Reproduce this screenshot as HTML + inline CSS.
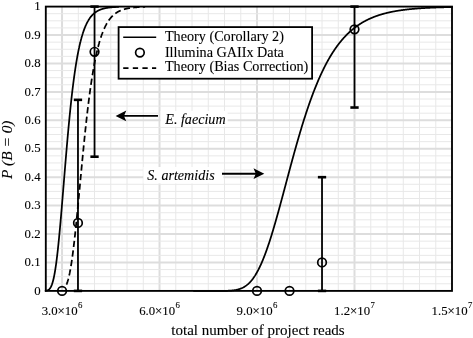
<!DOCTYPE html>
<html><head><meta charset="utf-8"><style>
html,body{margin:0;padding:0;background:#fff;overflow:hidden;width:473px;height:338px;}
svg{display:block;will-change:transform;}
text{font-family:"Liberation Serif",serif;fill:#000;stroke:#000;stroke-width:0.1px;}
.tk{font-size:12.8px;}
.gM{stroke:#dddddd;stroke-width:2;}
.gm{stroke:#e8e8e8;stroke-width:1;}
.c{fill:none;stroke:#000;stroke-width:1.75;stroke-linejoin:round;}
.eb{stroke:#000;stroke-width:1.8;}
.cap{stroke:#000;stroke-width:2.6;}
.pt{fill:none;stroke:#000;stroke-width:1.7;}
</style></head><body>
<svg width="473" height="338" viewBox="0 0 473 338">
<rect width="473" height="338" fill="#fff"/>
<g>
<line x1="62.05" y1="6.6" x2="62.05" y2="290.9" class="gM"/>
<line x1="78.30" y1="6.6" x2="78.30" y2="290.9" class="gm"/>
<line x1="94.54" y1="6.6" x2="94.54" y2="290.9" class="gm"/>
<line x1="110.79" y1="6.6" x2="110.79" y2="290.9" class="gm"/>
<line x1="127.04" y1="6.6" x2="127.04" y2="290.9" class="gm"/>
<line x1="143.29" y1="6.6" x2="143.29" y2="290.9" class="gm"/>
<line x1="159.54" y1="6.6" x2="159.54" y2="290.9" class="gM"/>
<line x1="175.78" y1="6.6" x2="175.78" y2="290.9" class="gm"/>
<line x1="192.03" y1="6.6" x2="192.03" y2="290.9" class="gm"/>
<line x1="208.28" y1="6.6" x2="208.28" y2="290.9" class="gm"/>
<line x1="224.53" y1="6.6" x2="224.53" y2="290.9" class="gm"/>
<line x1="240.78" y1="6.6" x2="240.78" y2="290.9" class="gm"/>
<line x1="257.02" y1="6.6" x2="257.02" y2="290.9" class="gM"/>
<line x1="273.27" y1="6.6" x2="273.27" y2="290.9" class="gm"/>
<line x1="289.52" y1="6.6" x2="289.52" y2="290.9" class="gm"/>
<line x1="305.77" y1="6.6" x2="305.77" y2="290.9" class="gm"/>
<line x1="322.02" y1="6.6" x2="322.02" y2="290.9" class="gm"/>
<line x1="338.26" y1="6.6" x2="338.26" y2="290.9" class="gm"/>
<line x1="354.51" y1="6.6" x2="354.51" y2="290.9" class="gM"/>
<line x1="370.76" y1="6.6" x2="370.76" y2="290.9" class="gm"/>
<line x1="387.01" y1="6.6" x2="387.01" y2="290.9" class="gm"/>
<line x1="403.26" y1="6.6" x2="403.26" y2="290.9" class="gm"/>
<line x1="419.50" y1="6.6" x2="419.50" y2="290.9" class="gm"/>
<line x1="435.75" y1="6.6" x2="435.75" y2="290.9" class="gm"/>
<line x1="45.8" y1="283.79" x2="452.0" y2="283.79" class="gm"/>
<line x1="45.8" y1="276.69" x2="452.0" y2="276.69" class="gm"/>
<line x1="45.8" y1="269.58" x2="452.0" y2="269.58" class="gm"/>
<line x1="45.8" y1="262.47" x2="452.0" y2="262.47" class="gM"/>
<line x1="45.8" y1="255.36" x2="452.0" y2="255.36" class="gm"/>
<line x1="45.8" y1="248.25" x2="452.0" y2="248.25" class="gm"/>
<line x1="45.8" y1="241.15" x2="452.0" y2="241.15" class="gm"/>
<line x1="45.8" y1="234.04" x2="452.0" y2="234.04" class="gM"/>
<line x1="45.8" y1="226.93" x2="452.0" y2="226.93" class="gm"/>
<line x1="45.8" y1="219.82" x2="452.0" y2="219.82" class="gm"/>
<line x1="45.8" y1="212.72" x2="452.0" y2="212.72" class="gm"/>
<line x1="45.8" y1="205.61" x2="452.0" y2="205.61" class="gM"/>
<line x1="45.8" y1="198.50" x2="452.0" y2="198.50" class="gm"/>
<line x1="45.8" y1="191.39" x2="452.0" y2="191.39" class="gm"/>
<line x1="45.8" y1="184.29" x2="452.0" y2="184.29" class="gm"/>
<line x1="45.8" y1="177.18" x2="452.0" y2="177.18" class="gM"/>
<line x1="45.8" y1="170.07" x2="452.0" y2="170.07" class="gm"/>
<line x1="45.8" y1="162.96" x2="452.0" y2="162.96" class="gm"/>
<line x1="45.8" y1="155.86" x2="452.0" y2="155.86" class="gm"/>
<line x1="45.8" y1="148.75" x2="452.0" y2="148.75" class="gM"/>
<line x1="45.8" y1="141.64" x2="452.0" y2="141.64" class="gm"/>
<line x1="45.8" y1="134.53" x2="452.0" y2="134.53" class="gm"/>
<line x1="45.8" y1="127.43" x2="452.0" y2="127.43" class="gm"/>
<line x1="45.8" y1="120.32" x2="452.0" y2="120.32" class="gM"/>
<line x1="45.8" y1="113.21" x2="452.0" y2="113.21" class="gm"/>
<line x1="45.8" y1="106.10" x2="452.0" y2="106.10" class="gm"/>
<line x1="45.8" y1="99.00" x2="452.0" y2="99.00" class="gm"/>
<line x1="45.8" y1="91.89" x2="452.0" y2="91.89" class="gM"/>
<line x1="45.8" y1="84.78" x2="452.0" y2="84.78" class="gm"/>
<line x1="45.8" y1="77.68" x2="452.0" y2="77.68" class="gm"/>
<line x1="45.8" y1="70.57" x2="452.0" y2="70.57" class="gm"/>
<line x1="45.8" y1="63.46" x2="452.0" y2="63.46" class="gM"/>
<line x1="45.8" y1="56.35" x2="452.0" y2="56.35" class="gm"/>
<line x1="45.8" y1="49.25" x2="452.0" y2="49.25" class="gm"/>
<line x1="45.8" y1="42.14" x2="452.0" y2="42.14" class="gm"/>
<line x1="45.8" y1="35.03" x2="452.0" y2="35.03" class="gM"/>
<line x1="45.8" y1="27.92" x2="452.0" y2="27.92" class="gm"/>
<line x1="45.8" y1="20.81" x2="452.0" y2="20.81" class="gm"/>
<line x1="45.8" y1="13.71" x2="452.0" y2="13.71" class="gm"/>
</g>
<rect x="160.6" y="111" width="67" height="15.5" fill="#fff"/>
<rect x="143.4" y="167" width="80" height="16.5" fill="#fff"/>
<polyline points="44.83,290.84 44.93,290.83 45.03,290.83 45.13,290.82 45.23,290.81 45.33,290.80 45.44,290.79 45.54,290.78 45.64,290.77 45.74,290.76 45.84,290.75 45.94,290.74 46.04,290.72 46.15,290.71 46.25,290.69 46.35,290.67 46.45,290.65 46.55,290.63 46.65,290.61 46.75,290.59 46.85,290.56 46.96,290.53 47.06,290.51 47.16,290.47 47.26,290.44 47.36,290.41 47.46,290.37 47.56,290.33 47.66,290.29 47.76,290.25 47.86,290.20 47.97,290.15 48.07,290.10 48.17,290.05 48.27,289.99 48.37,289.93 48.47,289.86 48.57,289.79 48.67,289.72 48.77,289.65 48.87,289.57 48.97,289.49 49.07,289.40 49.17,289.31 49.28,289.21 49.38,289.11 49.48,289.00 49.58,288.89 49.68,288.78 49.78,288.66 49.88,288.53 49.98,288.40 50.08,288.26 50.18,288.12 50.28,287.97 50.38,287.82 50.48,287.66 50.58,287.49 50.68,287.31 50.78,287.13 50.88,286.94 50.98,286.75 51.08,286.55 51.18,286.34 51.28,286.12 51.38,285.89 51.48,285.66 51.58,285.42 51.68,285.17 51.78,284.91 51.88,284.64 51.98,284.37 52.08,284.08 52.18,283.79 52.28,283.49 52.38,283.18 52.48,282.86 52.58,282.53 52.68,282.19 52.78,281.84 52.88,281.48 52.98,281.11 53.08,280.73 53.18,280.34 53.28,279.94 53.38,279.53 53.48,279.11 53.58,278.68 53.68,278.24 53.78,277.78 53.88,277.32 53.98,276.85 54.08,276.36 54.17,275.87 54.27,275.36 54.37,274.84 54.47,274.31 54.57,273.77 54.67,273.22 54.77,272.66 54.87,272.08 54.97,271.50 55.07,270.90 55.17,270.29 55.27,269.67 55.37,269.04 55.46,268.40 55.56,267.75 55.66,267.08 55.76,266.41 55.86,265.72 55.96,265.02 56.06,264.31 56.16,263.59 56.26,262.86 56.36,262.12 56.45,261.37 56.55,260.60 56.65,259.83 56.75,259.04 56.85,258.24 56.95,257.44 57.05,256.62 57.15,255.79 57.24,254.95 57.34,254.11 57.44,253.25 57.54,252.38 57.64,251.50 57.74,250.61 57.84,249.71 57.93,248.81 58.03,247.89 58.13,246.96 58.23,246.03 58.33,245.08 58.43,244.13 58.52,243.17 58.62,242.20 58.72,241.22 58.82,240.23 58.92,239.23 59.02,238.23 59.11,237.22 59.21,236.20 59.31,235.17 59.41,234.14 59.51,233.10 59.60,232.05 59.70,231.00 59.80,229.93 59.90,228.87 60.00,227.79 60.09,226.71 60.19,225.62 60.29,224.53 60.39,223.43 60.49,222.33 60.58,221.22 60.68,220.10 60.78,218.99 60.88,217.86 60.98,216.73 61.07,215.60 61.17,214.46 61.27,213.32 61.37,212.18 61.46,211.03 61.56,209.88 61.66,208.72 61.76,207.56 61.85,206.40 61.95,205.24 62.05,204.07 62.15,202.90 62.24,201.73 62.34,200.55 62.44,199.38 62.54,198.20 62.63,197.02 62.73,195.84 62.83,194.66 62.92,193.47 63.02,192.29 63.12,191.10 63.22,189.92 63.31,188.73 63.41,187.55 63.51,186.36 63.60,185.17 63.70,183.99 63.80,182.80 63.90,181.61 63.99,180.43 64.09,179.24 64.19,178.06 64.28,176.88 64.38,175.70 64.48,174.52 64.57,173.34 64.67,172.16 64.77,170.99 64.86,169.81 64.96,168.64 65.06,167.47 65.16,166.30 65.25,165.14 65.35,163.98 65.45,162.82 65.54,161.66 65.64,160.50 65.73,159.35 65.83,158.20 65.93,157.06 66.02,155.92 66.12,154.78 66.22,153.64 66.31,152.51 66.41,151.38 66.51,150.25 66.60,149.13 66.70,148.02 66.80,146.90 66.89,145.79 66.99,144.69 67.08,143.59 67.18,142.49 67.28,141.40 67.37,140.31 67.47,139.23 67.56,138.15 67.66,137.07 67.76,136.00 67.85,134.94 67.95,133.88 68.05,132.82 68.14,131.77 68.24,130.73 68.33,129.69 68.43,128.65 68.52,127.62 68.62,126.60 68.72,125.58 68.81,124.56 68.91,123.56 69.00,122.55 69.10,121.55 69.20,120.56 69.29,119.57 69.39,118.59 69.48,117.62 69.58,116.65 69.67,115.68 69.77,114.72 69.86,113.77 69.96,112.82 70.06,111.88 70.15,110.94 70.25,110.01 70.34,109.08 70.44,108.16 70.53,107.25 70.63,106.34 70.72,105.44 70.82,104.55 70.91,103.66 71.01,102.77 71.10,101.89 71.20,101.02 71.29,100.15 71.39,99.29 71.48,98.44 71.58,97.59 71.67,96.75 71.77,95.91 71.86,95.08 71.96,94.25 72.05,93.43 72.15,92.62 72.24,91.81 72.34,91.01 72.43,90.21 72.53,89.42 72.62,88.64 72.72,87.86 72.81,87.09 72.91,86.32 73.00,85.56 73.10,84.81 73.19,84.06 73.29,83.31 73.38,82.57 73.48,81.84 73.57,81.12 73.67,80.40 73.76,79.68 73.85,78.97 73.95,78.27 74.04,77.57 74.14,76.88 74.23,76.19 74.33,75.51 74.42,74.83 74.52,74.16 74.61,73.50 74.70,72.84 74.80,72.19 74.89,71.54 74.99,70.90 75.08,70.26 75.18,69.63 75.27,69.00 75.36,68.38 75.46,67.76 75.55,67.15 75.65,66.55 75.74,65.95 75.83,65.35 75.93,64.76 76.02,64.18 76.12,63.60 76.21,63.02 76.30,62.45 76.40,61.89 76.49,61.33 76.58,60.78 76.68,60.23 76.77,59.68 76.87,59.14 76.96,58.61 77.05,58.08 77.15,57.55 77.24,57.03 77.33,56.52 77.43,56.00 77.52,55.50 77.62,55.00 77.71,54.50 77.80,54.01 77.90,53.52 77.99,53.03 78.08,52.56 78.18,52.08 78.27,51.61 78.36,51.15 78.46,50.68 78.55,50.23 78.64,49.77 78.74,49.33 78.83,48.88 78.92,48.44 79.02,48.01 79.11,47.57 79.20,47.15 79.29,46.72 79.39,46.30 79.48,45.89 79.57,45.48 79.67,45.07 79.76,44.67 79.85,44.27 79.95,43.87 80.04,43.48 80.13,43.09 80.22,42.71 80.32,42.33 80.41,41.95 80.50,41.57 80.60,41.21 80.69,40.84 80.78,40.48 80.87,40.12 80.97,39.76 81.06,39.41 81.15,39.06 81.24,38.72 81.34,38.38 81.43,38.04 81.52,37.71 81.62,37.37 81.71,37.05 81.80,36.72 81.89,36.40 81.98,36.08 82.08,35.77 82.17,35.46 82.26,35.15 82.35,34.84 82.45,34.54 82.54,34.24 82.63,33.94 82.72,33.65 82.82,33.36 82.91,33.07 83.00,32.79 83.09,32.51 83.18,32.23 83.28,31.95 83.37,31.68 83.46,31.41 83.55,31.14 83.64,30.88 83.74,30.61 83.83,30.35 83.92,30.10 84.01,29.84 84.10,29.59 84.20,29.34 84.29,29.10 84.38,28.85 84.47,28.61 84.56,28.37 84.65,28.14 84.75,27.91 84.84,27.67 84.93,27.45 85.02,27.22 85.11,26.99 85.20,26.77 85.30,26.55 85.39,26.34 85.48,26.12 85.57,25.91 85.66,25.70 85.75,25.49 85.84,25.28 85.94,25.08 86.03,24.88 86.12,24.68 86.21,24.48 86.30,24.29 86.39,24.09 86.48,23.90 86.58,23.71 86.67,23.53 86.76,23.34 86.85,23.16 86.94,22.98 87.03,22.80 87.12,22.62 87.21,22.44 87.30,22.27 87.39,22.10 87.49,21.93 87.58,21.76 87.67,21.59 87.76,21.43 87.85,21.27 87.94,21.10 88.03,20.95 88.12,20.79 88.21,20.63 88.30,20.48 88.39,20.32 88.48,20.17 88.58,20.02 88.67,19.88 88.76,19.73 88.85,19.58 88.94,19.44 89.03,19.30 89.12,19.16 89.21,19.02 89.30,18.88 89.39,18.75 89.48,18.61 89.57,18.48 89.66,18.35 89.75,18.22 89.84,18.09 89.93,17.97 90.02,17.84 90.11,17.72 90.20,17.59 90.29,17.47 90.38,17.35 90.47,17.23 90.56,17.11 90.65,17.00 90.74,16.88 90.83,16.77 90.92,16.66 91.01,16.54 91.10,16.43 91.19,16.33 91.28,16.22 91.37,16.11 91.46,16.01 91.55,15.90 91.64,15.80 91.73,15.70 91.82,15.59 91.91,15.49 92.00,15.40 92.09,15.30 92.18,15.20 92.27,15.11 92.36,15.01 92.45,14.92 92.54,14.83 92.63,14.73 92.72,14.64 92.81,14.55 92.90,14.47 92.99,14.38 93.08,14.29 93.17,14.21 93.26,14.12 93.35,14.04 93.44,13.95 93.53,13.87 93.62,13.79 93.70,13.71 93.79,13.63 93.88,13.55 93.97,13.48 94.06,13.40 94.15,13.32 94.24,13.25 94.33,13.18 94.42,13.10 94.51,13.03 94.60,12.96 94.69,12.89 94.77,12.82 94.86,12.75 94.95,12.68 95.04,12.61 95.13,12.54 95.22,12.48 95.31,12.41 95.40,12.35 95.49,12.28 95.57,12.22 95.66,12.16 95.75,12.09 95.84,12.03 95.93,11.97 96.02,11.91 96.11,11.85 96.20,11.79 96.28,11.74 96.37,11.68 96.46,11.62 96.55,11.57 96.64,11.51 96.73,11.46 96.82,11.40 96.90,11.35 96.99,11.29 97.08,11.24 97.17,11.19 97.26,11.14 97.35,11.09 97.43,11.04 97.52,10.99 97.61,10.94 97.70,10.89 97.79,10.84 97.88,10.79 97.96,10.75 98.05,10.70 98.14,10.65 98.23,10.61 98.32,10.56 98.40,10.52 98.49,10.48 98.58,10.43 98.67,10.39 98.76,10.35 98.84,10.31 98.93,10.26 99.02,10.22 99.11,10.18 99.19,10.14 99.28,10.10 99.37,10.06 99.46,10.02 99.55,9.99 99.63,9.95 99.72,9.91 99.81,9.87 99.90,9.84 99.98,9.80 100.07,9.76 100.16,9.73 100.25,9.69 100.33,9.66 100.42,9.62 100.51,9.59 100.60,9.56 100.68,9.52 100.77,9.49 100.86,9.46 100.95,9.43 101.03,9.39 101.12,9.36 101.21,9.33 101.30,9.30 101.38,9.27 101.47,9.24 101.56,9.21 101.64,9.18 101.73,9.15 101.82,9.12 101.91,9.10 101.99,9.07 102.08,9.04 102.17,9.01 102.25,8.99 102.34,8.96 102.43,8.93 102.51,8.91 102.60,8.88 102.69,8.85 102.77,8.83 102.86,8.80 102.95,8.78 103.03,8.76 103.12,8.73 103.21,8.71 103.29,8.68 103.38,8.66 103.47,8.64 103.55,8.61 103.64,8.59 103.73,8.57 103.81,8.55 103.90,8.52 103.99,8.50 104.07,8.48 104.16,8.46 104.25,8.44 104.33,8.42 104.42,8.40 104.51,8.38 104.59,8.36 104.68,8.34 104.76,8.32 104.85,8.30 104.94,8.28 105.02,8.26 105.11,8.24 105.20,8.22 105.28,8.21 105.37,8.19 105.45,8.17 105.54,8.15 105.63,8.14 105.71,8.12 105.80,8.10 105.88,8.08 105.97,8.07 106.06,8.05 106.14,8.03 106.23,8.02 106.31,8.00 106.40,7.99 106.49,7.97 106.57,7.96 106.66,7.94 106.74,7.93 106.83,7.91 106.91,7.90 107.00,7.88 107.09,7.87 107.17,7.85 107.26,7.84 107.34,7.82 107.43,7.81 107.51,7.80 107.60,7.78 107.68,7.77 107.77,7.76 107.85,7.74 107.94,7.73 108.03,7.72 108.11,7.71 108.20,7.69 108.28,7.68 108.37,7.67 108.45,7.66 108.54,7.64 108.62,7.63 108.71,7.62 108.79,7.61 108.88,7.60 108.96,7.59 109.05,7.58 109.13,7.57 109.22,7.55 109.30,7.54 109.39,7.53 109.47,7.52 109.56,7.51 109.64,7.50 109.73,7.49 109.81,7.48 109.90,7.47 109.98,7.46 110.07,7.45 110.15,7.44 110.24,7.43 110.32,7.42 110.41,7.41 110.49,7.41 110.58,7.40 110.66,7.39 110.74,7.38 110.83,7.37 110.91,7.36 111.00,7.35 111.08,7.34 111.17,7.34 111.25,7.33 111.34,7.32 111.42,7.31 111.50,7.30 111.59,7.29 111.67,7.29 111.76,7.28 111.84,7.27 111.93,7.26 112.01,7.26 112.09,7.25 112.18,7.24 112.26,7.23 112.35,7.23 112.43,7.22 112.51,7.21 112.60,7.21 112.68,7.20 112.77,7.19 112.85,7.19 112.94,7.18 113.02,7.17 113.10,7.17 113.19,7.16 113.27,7.15 113.35,7.15 113.44,7.14 113.52,7.14 113.61,7.13 113.69,7.12 113.77,7.12 113.86,7.11 113.94,7.11 114.02,7.10 114.11,7.09 114.19,7.09 114.28,7.08 114.36,7.08 114.44,7.07 114.53,7.07 114.61,7.06 114.69,7.06 114.78,7.05 114.86,7.05 114.94,7.04 115.03,7.04 115.11,7.03 115.19,7.03 115.28,7.02 115.36,7.02 115.44,7.01 115.53,7.01 115.61,7.00 115.69,7.00 115.78,6.99 115.86,6.99 115.94,6.99 116.02,6.98 116.11,6.98 116.19,6.97 116.27,6.97 116.36,6.96 116.44,6.96 116.52,6.96 116.61,6.95 116.69,6.95 116.77,6.94 116.85,6.94 116.94,6.94 117.02,6.93 117.10,6.93 117.19,6.93 117.27,6.92 117.35,6.92 117.43,6.91 117.52,6.91 117.60,6.91 117.68,6.90 117.76,6.90 117.85,6.90 117.93,6.89 118.01,6.89 118.09,6.89 118.18,6.88 118.26,6.88 118.34,6.88 118.42,6.87 118.51,6.87 118.59,6.87 118.67,6.87 118.75,6.86 118.83,6.86" class="c"/>
<polyline points="193.24,290.90 193.57,290.90 193.91,290.90 194.25,290.90 194.58,290.90 194.92,290.90 195.25,290.90 195.59,290.90 195.92,290.90 196.26,290.90 196.60,290.90 196.93,290.90 197.27,290.90 197.60,290.90 197.94,290.90 198.27,290.90 198.61,290.90 198.94,290.90 199.28,290.90 199.61,290.90 199.95,290.90 200.28,290.90 200.62,290.90 200.95,290.90 201.29,290.90 201.62,290.90 201.95,290.90 202.29,290.90 202.62,290.90 202.96,290.90 203.29,290.90 203.63,290.90 203.96,290.90 204.29,290.90 204.63,290.90 204.96,290.90 205.29,290.90 205.63,290.90 205.96,290.90 206.30,290.90 206.63,290.90 206.96,290.90 207.30,290.90 207.63,290.90 207.96,290.90 208.29,290.90 208.63,290.90 208.96,290.90 209.29,290.90 209.63,290.90 209.96,290.90 210.29,290.90 210.62,290.90 210.96,290.90 211.29,290.90 211.62,290.90 211.95,290.90 212.29,290.90 212.62,290.90 212.95,290.90 213.28,290.90 213.61,290.90 213.95,290.90 214.28,290.90 214.61,290.90 214.94,290.90 215.27,290.90 215.60,290.90 215.93,290.90 216.27,290.90 216.60,290.90 216.93,290.90 217.26,290.89 217.59,290.89 217.92,290.89 218.25,290.89 218.58,290.89 218.91,290.89 219.24,290.89 219.57,290.89 219.91,290.89 220.24,290.88 220.57,290.88 220.90,290.88 221.23,290.88 221.56,290.88 221.89,290.87 222.22,290.87 222.55,290.87 222.88,290.86 223.21,290.86 223.54,290.85 223.87,290.85 224.20,290.84 224.52,290.84 224.85,290.83 225.18,290.83 225.51,290.82 225.84,290.81 226.17,290.80 226.50,290.79 226.83,290.78 227.16,290.77 227.49,290.76 227.82,290.75 228.14,290.74 228.47,290.72 228.80,290.71 229.13,290.69 229.46,290.67 229.79,290.65 230.12,290.63 230.44,290.61 230.77,290.59 231.10,290.56 231.43,290.53 231.76,290.51 232.08,290.47 232.41,290.44 232.74,290.41 233.07,290.37 233.39,290.33 233.72,290.29 234.05,290.25 234.38,290.20 234.70,290.15 235.03,290.10 235.36,290.05 235.69,289.99 236.01,289.93 236.34,289.86 236.67,289.79 236.99,289.72 237.32,289.65 237.65,289.57 237.97,289.49 238.30,289.40 238.63,289.31 238.95,289.21 239.28,289.11 239.60,289.00 239.93,288.89 240.26,288.78 240.58,288.66 240.91,288.53 241.23,288.40 241.56,288.26 241.89,288.12 242.21,287.97 242.54,287.82 242.86,287.66 243.19,287.49 243.51,287.31 243.84,287.13 244.16,286.94 244.49,286.75 244.81,286.55 245.14,286.34 245.46,286.12 245.79,285.89 246.11,285.66 246.44,285.42 246.76,285.17 247.09,284.91 247.41,284.64 247.74,284.37 248.06,284.08 248.38,283.79 248.71,283.49 249.03,283.18 249.36,282.86 249.68,282.53 250.00,282.19 250.33,281.84 250.65,281.48 250.98,281.11 251.30,280.73 251.62,280.34 251.95,279.94 252.27,279.53 252.59,279.11 252.92,278.68 253.24,278.24 253.56,277.78 253.89,277.32 254.21,276.85 254.53,276.36 254.85,275.87 255.18,275.36 255.50,274.84 255.82,274.31 256.15,273.77 256.47,273.22 256.79,272.66 257.11,272.08 257.43,271.50 257.76,270.90 258.08,270.29 258.40,269.67 258.72,269.04 259.05,268.40 259.37,267.75 259.69,267.08 260.01,266.41 260.33,265.72 260.65,265.02 260.97,264.31 261.30,263.59 261.62,262.86 261.94,262.12 262.26,261.37 262.58,260.60 262.90,259.83 263.22,259.04 263.54,258.24 263.86,257.44 264.19,256.62 264.51,255.79 264.83,254.95 265.15,254.11 265.47,253.25 265.79,252.38 266.11,251.50 266.43,250.61 266.75,249.71 267.07,248.81 267.39,247.89 267.71,246.96 268.03,246.03 268.35,245.08 268.67,244.13 268.99,243.17 269.31,242.20 269.63,241.22 269.95,240.23 270.27,239.23 270.59,238.23 270.90,237.22 271.22,236.20 271.54,235.17 271.86,234.14 272.18,233.10 272.50,232.05 272.82,231.00 273.14,229.93 273.46,228.87 273.77,227.79 274.09,226.71 274.41,225.62 274.73,224.53 275.05,223.43 275.37,222.33 275.68,221.22 276.00,220.10 276.32,218.99 276.64,217.86 276.96,216.73 277.27,215.60 277.59,214.46 277.91,213.32 278.23,212.18 278.54,211.03 278.86,209.88 279.18,208.72 279.50,207.56 279.81,206.40 280.13,205.24 280.45,204.07 280.76,202.90 281.08,201.73 281.40,200.55 281.72,199.38 282.03,198.20 282.35,197.02 282.67,195.84 282.98,194.66 283.30,193.47 283.61,192.29 283.93,191.10 284.25,189.92 284.56,188.73 284.88,187.55 285.20,186.36 285.51,185.17 285.83,183.99 286.14,182.80 286.46,181.61 286.77,180.43 287.09,179.24 287.41,178.06 287.72,176.88 288.04,175.70 288.35,174.52 288.67,173.34 288.98,172.16 289.30,170.99 289.61,169.81 289.93,168.64 290.24,167.47 290.56,166.30 290.87,165.14 291.19,163.98 291.50,162.82 291.81,161.66 292.13,160.50 292.44,159.35 292.76,158.20 293.07,157.06 293.39,155.92 293.70,154.78 294.01,153.64 294.33,152.51 294.64,151.38 294.96,150.25 295.27,149.13 295.58,148.02 295.90,146.90 296.21,145.79 296.52,144.69 296.84,143.59 297.15,142.49 297.46,141.40 297.78,140.31 298.09,139.23 298.40,138.15 298.72,137.07 299.03,136.00 299.34,134.94 299.65,133.88 299.97,132.82 300.28,131.77 300.59,130.73 300.90,129.69 301.22,128.65 301.53,127.62 301.84,126.60 302.15,125.58 302.46,124.56 302.78,123.56 303.09,122.55 303.40,121.55 303.71,120.56 304.02,119.57 304.34,118.59 304.65,117.62 304.96,116.65 305.27,115.68 305.58,114.72 305.89,113.77 306.20,112.82 306.51,111.88 306.83,110.94 307.14,110.01 307.45,109.08 307.76,108.16 308.07,107.25 308.38,106.34 308.69,105.44 309.00,104.55 309.31,103.66 309.62,102.77 309.93,101.89 310.24,101.02 310.55,100.15 310.86,99.29 311.17,98.44 311.48,97.59 311.79,96.75 312.10,95.91 312.41,95.08 312.72,94.25 313.03,93.43 313.34,92.62 313.65,91.81 313.96,91.01 314.27,90.21 314.58,89.42 314.89,88.64 315.20,87.86 315.51,87.09 315.81,86.32 316.12,85.56 316.43,84.81 316.74,84.06 317.05,83.31 317.36,82.57 317.67,81.84 317.98,81.12 318.28,80.40 318.59,79.68 318.90,78.97 319.21,78.27 319.52,77.57 319.82,76.88 320.13,76.19 320.44,75.51 320.75,74.83 321.06,74.16 321.36,73.50 321.67,72.84 321.98,72.19 322.29,71.54 322.59,70.90 322.90,70.26 323.21,69.63 323.52,69.00 323.82,68.38 324.13,67.76 324.44,67.15 324.74,66.55 325.05,65.95 325.36,65.35 325.66,64.76 325.97,64.18 326.28,63.60 326.58,63.02 326.89,62.45 327.20,61.89 327.50,61.33 327.81,60.78 328.11,60.23 328.42,59.68 328.73,59.14 329.03,58.61 329.34,58.08 329.64,57.55 329.95,57.03 330.25,56.52 330.56,56.00 330.87,55.50 331.17,55.00 331.48,54.50 331.78,54.01 332.09,53.52 332.39,53.03 332.70,52.56 333.00,52.08 333.31,51.61 333.61,51.15 333.92,50.68 334.22,50.23 334.53,49.77 334.83,49.33 335.13,48.88 335.44,48.44 335.74,48.01 336.05,47.57 336.35,47.15 336.66,46.72 336.96,46.30 337.26,45.89 337.57,45.48 337.87,45.07 338.17,44.67 338.48,44.27 338.78,43.87 339.09,43.48 339.39,43.09 339.69,42.71 340.00,42.33 340.30,41.95 340.60,41.57 340.90,41.21 341.21,40.84 341.51,40.48 341.81,40.12 342.12,39.76 342.42,39.41 342.72,39.06 343.02,38.72 343.33,38.38 343.63,38.04 343.93,37.71 344.23,37.37 344.54,37.05 344.84,36.72 345.14,36.40 345.44,36.08 345.74,35.77 346.05,35.46 346.35,35.15 346.65,34.84 346.95,34.54 347.25,34.24 347.55,33.94 347.86,33.65 348.16,33.36 348.46,33.07 348.76,32.79 349.06,32.51 349.36,32.23 349.66,31.95 349.96,31.68 350.26,31.41 350.56,31.14 350.87,30.88 351.17,30.61 351.47,30.35 351.77,30.10 352.07,29.84 352.37,29.59 352.67,29.34 352.97,29.10 353.27,28.85 353.57,28.61 353.87,28.37 354.17,28.14 354.47,27.91 354.77,27.67 355.07,27.45 355.37,27.22 355.67,26.99 355.97,26.77 356.27,26.55 356.56,26.34 356.86,26.12 357.16,25.91 357.46,25.70 357.76,25.49 358.06,25.28 358.36,25.08 358.66,24.88 358.96,24.68 359.26,24.48 359.55,24.29 359.85,24.09 360.15,23.90 360.45,23.71 360.75,23.53 361.05,23.34 361.34,23.16 361.64,22.98 361.94,22.80 362.24,22.62 362.54,22.44 362.83,22.27 363.13,22.10 363.43,21.93 363.73,21.76 364.02,21.59 364.32,21.43 364.62,21.27 364.92,21.10 365.21,20.95 365.51,20.79 365.81,20.63 366.11,20.48 366.40,20.32 366.70,20.17 367.00,20.02 367.29,19.88 367.59,19.73 367.89,19.58 368.18,19.44 368.48,19.30 368.78,19.16 369.07,19.02 369.37,18.88 369.66,18.75 369.96,18.61 370.26,18.48 370.55,18.35 370.85,18.22 371.14,18.09 371.44,17.97 371.74,17.84 372.03,17.72 372.33,17.59 372.62,17.47 372.92,17.35 373.21,17.23 373.51,17.11 373.80,17.00 374.10,16.88 374.39,16.77 374.69,16.66 374.98,16.54 375.28,16.43 375.57,16.33 375.87,16.22 376.16,16.11 376.46,16.01 376.75,15.90 377.04,15.80 377.34,15.70 377.63,15.59 377.93,15.49 378.22,15.40 378.52,15.30 378.81,15.20 379.10,15.11 379.40,15.01 379.69,14.92 379.98,14.83 380.28,14.73 380.57,14.64 380.87,14.55 381.16,14.47 381.45,14.38 381.74,14.29 382.04,14.21 382.33,14.12 382.62,14.04 382.92,13.95 383.21,13.87 383.50,13.79 383.80,13.71 384.09,13.63 384.38,13.55 384.67,13.48 384.97,13.40 385.26,13.32 385.55,13.25 385.84,13.18 386.13,13.10 386.43,13.03 386.72,12.96 387.01,12.89 387.30,12.82 387.59,12.75 387.89,12.68 388.18,12.61 388.47,12.54 388.76,12.48 389.05,12.41 389.34,12.35 389.63,12.28 389.93,12.22 390.22,12.16 390.51,12.09 390.80,12.03 391.09,11.97 391.38,11.91 391.67,11.85 391.96,11.79 392.25,11.74 392.54,11.68 392.83,11.62 393.12,11.57 393.41,11.51 393.71,11.46 394.00,11.40 394.29,11.35 394.58,11.29 394.87,11.24 395.16,11.19 395.45,11.14 395.73,11.09 396.02,11.04 396.31,10.99 396.60,10.94 396.89,10.89 397.18,10.84 397.47,10.79 397.76,10.75 398.05,10.70 398.34,10.65 398.63,10.61 398.92,10.56 399.21,10.52 399.50,10.48 399.78,10.43 400.07,10.39 400.36,10.35 400.65,10.31 400.94,10.26 401.23,10.22 401.52,10.18 401.80,10.14 402.09,10.10 402.38,10.06 402.67,10.02 402.96,9.99 403.24,9.95 403.53,9.91 403.82,9.87 404.11,9.84 404.39,9.80 404.68,9.76 404.97,9.73 405.26,9.69 405.54,9.66 405.83,9.62 406.12,9.59 406.41,9.56 406.69,9.52 406.98,9.49 407.27,9.46 407.55,9.43 407.84,9.39 408.13,9.36 408.41,9.33 408.70,9.30 408.99,9.27 409.27,9.24 409.56,9.21 409.85,9.18 410.13,9.15 410.42,9.12 410.70,9.10 410.99,9.07 411.28,9.04 411.56,9.01 411.85,8.99 412.13,8.96 412.42,8.93 412.70,8.91 412.99,8.88 413.28,8.85 413.56,8.83 413.85,8.80 414.13,8.78 414.42,8.76 414.70,8.73 414.99,8.71 415.27,8.68 415.56,8.66 415.84,8.64 416.12,8.61 416.41,8.59 416.69,8.57 416.98,8.55 417.26,8.52 417.55,8.50 417.83,8.48 418.12,8.46 418.40,8.44 418.68,8.42 418.97,8.40 419.25,8.38 419.54,8.36 419.82,8.34 420.10,8.32 420.39,8.30 420.67,8.28 420.95,8.26 421.24,8.24 421.52,8.22 421.80,8.21 422.09,8.19 422.37,8.17 422.65,8.15 422.94,8.14 423.22,8.12 423.50,8.10 423.78,8.08 424.07,8.07 424.35,8.05 424.63,8.03 424.91,8.02 425.20,8.00 425.48,7.99 425.76,7.97 426.04,7.96 426.33,7.94 426.61,7.93 426.89,7.91 427.17,7.90 427.45,7.88 427.73,7.87 428.02,7.85 428.30,7.84 428.58,7.82 428.86,7.81 429.14,7.80 429.42,7.78 429.70,7.77 429.99,7.76 430.27,7.74 430.55,7.73 430.83,7.72 431.11,7.71 431.39,7.69 431.67,7.68 431.95,7.67 432.23,7.66 432.51,7.64 432.79,7.63 433.07,7.62 433.35,7.61 433.63,7.60 433.91,7.59 434.19,7.58 434.47,7.57 434.75,7.55 435.03,7.54 435.31,7.53 435.59,7.52 435.87,7.51 436.15,7.50 436.43,7.49 436.71,7.48 436.99,7.47 437.27,7.46 437.55,7.45 437.83,7.44 438.11,7.43 438.39,7.42 438.67,7.41 438.94,7.41 439.22,7.40 439.50,7.39 439.78,7.38 440.06,7.37 440.34,7.36 440.62,7.35 440.89,7.34 441.17,7.34 441.45,7.33 441.73,7.32 442.01,7.31 442.28,7.30 442.56,7.29 442.84,7.29 443.12,7.28 443.40,7.27 443.67,7.26 443.95,7.26 444.23,7.25 444.51,7.24 444.78,7.23 445.06,7.23 445.34,7.22 445.62,7.21 445.89,7.21 446.17,7.20 446.45,7.19 446.72,7.19 447.00,7.18 447.28,7.17 447.55,7.17 447.83,7.16 448.11,7.15 448.38,7.15 448.66,7.14 448.94,7.14 449.21,7.13 449.49,7.12 449.76,7.12 450.04,7.11 450.32,7.11 450.59,7.10 450.87,7.09 451.14,7.09 451.42,7.08 451.69,7.08 451.97,7.07 452.24,7.07 452.52,7.06 452.80,7.06" class="c"/>
<polyline points="66.45,284.65 66.55,284.42 66.64,284.19 66.73,283.95 66.83,283.71 66.92,283.46 67.02,283.21 67.11,282.95 67.20,282.68 67.30,282.41 67.39,282.13 67.48,281.84 67.58,281.55 67.67,281.25 67.76,280.94 67.86,280.63 67.95,280.31 68.04,279.98 68.14,279.65 68.23,279.31 68.32,278.96 68.42,278.61 68.51,278.25 68.60,277.88 68.70,277.50 68.79,277.12 68.88,276.73 68.98,276.33 69.07,275.93 69.16,275.51 69.26,275.09 69.35,274.67 69.44,274.23 69.54,273.79 69.63,273.34 69.72,272.88 69.82,272.42 69.91,271.94 70.00,271.46 70.09,270.98 70.19,270.48 70.28,269.98 70.37,269.47 70.47,268.95 70.56,268.43 70.65,267.89 70.75,267.35 70.84,266.80 70.93,266.25 71.02,265.69 71.12,265.12 71.21,264.54 71.30,263.95 71.40,263.36 71.49,262.76 71.58,262.15 71.68,261.54 71.77,260.92 71.86,260.29 71.95,259.65 72.05,259.01 72.14,258.36 72.23,257.70 72.32,257.03 72.42,256.36 72.51,255.68 72.60,255.00 72.70,254.30 72.79,253.60 72.88,252.90 72.97,252.19 73.07,251.47 73.16,250.74 73.25,250.01 73.34,249.27 73.44,248.52 73.53,247.77 73.62,247.02 73.71,246.25 73.81,245.48 73.90,244.71 73.99,243.92 74.08,243.14 74.18,242.34 74.27,241.54 74.36,240.74 74.45,239.93 74.55,239.12 74.64,238.29 74.73,237.47 74.82,236.64 74.92,235.80 75.01,234.96 75.10,234.11 75.19,233.26 75.29,232.41 75.38,231.55 75.47,230.68 75.56,229.81 75.66,228.94 75.75,228.06 75.84,227.18 75.93,226.29 76.02,225.40 76.12,224.51 76.21,223.61 76.30,222.71 76.39,221.81 76.49,220.90 76.58,219.99 76.67,219.07 76.76,218.15 76.85,217.23 76.95,216.31 77.04,215.38 77.13,214.45 77.22,213.52 77.31,212.58 77.41,211.64 77.50,210.70 77.59,209.76 77.68,208.82 77.77,207.87 77.87,206.92 77.96,205.97 78.05,205.02 78.14,204.06 78.23,203.11 78.33,202.15 78.42,201.19 78.51,200.23 78.60,199.27 78.69,198.30 78.78,197.34 78.88,196.37 78.97,195.41 79.06,194.44 79.15,193.47 79.24,192.51 79.33,191.54 79.43,190.57 79.52,189.60 79.61,188.63 79.70,187.66 79.79,186.69 79.89,185.72 79.98,184.75 80.07,183.78 80.16,182.81 80.25,181.84 80.34,180.87 80.43,179.90 80.53,178.93 80.62,177.97 80.71,177.00 80.80,176.03 80.89,175.07 80.98,174.10 81.08,173.14 81.17,172.18 81.26,171.22 81.35,170.26 81.44,169.30 81.53,168.34 81.62,167.38 81.72,166.43 81.81,165.48 81.90,164.53 81.99,163.58 82.08,162.63 82.17,161.68 82.26,160.74 82.35,159.80 82.45,158.86 82.54,157.92 82.63,156.98 82.72,156.05 82.81,155.12 82.90,154.19 82.99,153.26 83.08,152.33 83.18,151.41 83.27,150.49 83.36,149.57 83.45,148.66 83.54,147.75 83.63,146.84 83.72,145.93 83.81,145.02 83.90,144.12 84.00,143.22 84.09,142.33 84.18,141.44 84.27,140.55 84.36,139.66 84.45,138.77 84.54,137.89 84.63,137.02 84.72,136.14 84.81,135.27 84.90,134.40 85.00,133.54 85.09,132.67 85.18,131.82 85.27,130.96 85.36,130.11 85.45,129.26 85.54,128.42 85.63,127.57 85.72,126.74 85.81,125.90 85.90,125.07 85.99,124.24 86.09,123.42 86.18,122.60 86.27,121.78 86.36,120.97 86.45,120.16 86.54,119.35 86.63,118.55 86.72,117.75 86.81,116.96 86.90,116.17 86.99,115.38 87.08,114.60 87.17,113.82 87.26,113.04 87.35,112.27 87.44,111.50 87.53,110.74 87.63,109.98 87.72,109.22 87.81,108.47 87.90,107.72 87.99,106.97 88.08,106.23 88.17,105.50 88.26,104.76 88.35,104.03 88.44,103.31 88.53,102.59 88.62,101.87 88.71,101.16 88.80,100.45 88.89,99.74 88.98,99.04 89.07,98.34 89.16,97.65 89.25,96.96 89.34,96.27 89.43,95.59 89.52,94.91 89.61,94.24 89.70,93.56 89.79,92.90 89.88,92.24 89.97,91.58 90.06,90.92 90.15,90.27 90.24,89.63 90.33,88.98 90.42,88.34 90.51,87.71 90.60,87.08 90.69,86.45 90.78,85.83 90.87,85.21 90.96,84.59 91.05,83.98 91.14,83.37 91.23,82.77 91.32,82.17 91.41,81.57 91.50,80.98 91.59,80.39 91.68,79.81 91.77,79.22 91.86,78.65 91.95,78.07 92.04,77.50 92.13,76.94 92.22,76.38 92.31,75.82 92.40,75.26 92.49,74.71 92.58,74.16 92.67,73.62 92.76,73.08 92.85,72.54 92.94,72.01 93.03,71.48 93.12,70.96 93.21,70.43 93.30,69.92 93.39,69.40 93.48,68.89 93.57,68.38 93.66,67.88 93.75,67.38 93.84,66.88 93.93,66.39 94.01,65.90 94.10,65.41 94.19,64.93 94.28,64.45 94.37,63.97 94.46,63.50 94.55,63.03 94.64,62.56 94.73,62.10 94.82,61.64 94.91,61.19 95.00,60.73 95.09,60.28 95.18,59.84 95.27,59.40 95.36,58.96 95.45,58.52 95.53,58.09 95.62,57.66 95.71,57.23 95.80,56.81 95.89,56.39 95.98,55.97 96.07,55.55 96.16,55.14 96.25,54.74 96.34,54.33 96.43,53.93 96.52,53.53 96.60,53.13 96.69,52.74 96.78,52.35 96.87,51.97 96.96,51.58 97.05,51.20 97.14,50.82 97.23,50.45 97.32,50.08 97.41,49.71 97.50,49.34 97.58,48.98 97.67,48.62 97.76,48.26 97.85,47.90 97.94,47.55 98.03,47.20 98.12,46.85 98.21,46.51 98.30,46.17 98.38,45.83 98.47,45.49 98.56,45.16 98.65,44.83 98.74,44.50 98.83,44.17 98.92,43.85 99.01,43.53 99.09,43.21 99.18,42.90 99.27,42.58 99.36,42.27 99.45,41.96 99.54,41.66 99.63,41.36 99.72,41.06 99.80,40.76 99.89,40.46 99.98,40.17 100.07,39.88 100.16,39.59 100.25,39.30 100.34,39.02 100.42,38.74 100.51,38.46 100.60,38.18 100.69,37.90 100.78,37.63 100.87,37.36 100.95,37.09 101.04,36.83 101.13,36.56 101.22,36.30 101.31,36.04 101.40,35.78 101.49,35.53 101.57,35.28 101.66,35.03 101.75,34.78 101.84,34.53 101.93,34.28 102.02,34.04 102.10,33.80 102.19,33.56 102.28,33.33 102.37,33.09 102.46,32.86 102.54,32.63 102.63,32.40 102.72,32.17 102.81,31.94 102.90,31.72 102.99,31.50 103.07,31.28 103.16,31.06 103.25,30.85 103.34,30.63 103.43,30.42 103.51,30.21 103.60,30.00 103.69,29.79 103.78,29.59 103.87,29.39 103.95,29.18 104.04,28.98 104.13,28.78 104.22,28.59 104.31,28.39 104.39,28.20 104.48,28.01 104.57,27.82 104.66,27.63 104.75,27.44 104.83,27.26 104.92,27.07 105.01,26.89 105.10,26.71 105.18,26.53 105.27,26.35 105.36,26.18 105.45,26.00 105.54,25.83 105.62,25.66 105.71,25.49 105.80,25.32 105.89,25.15 105.97,24.99 106.06,24.82 106.15,24.66 106.24,24.50 106.32,24.34 106.41,24.18 106.50,24.02 106.59,23.87 106.67,23.71 106.76,23.56 106.85,23.41 106.94,23.26 107.03,23.11 107.11,22.96 107.20,22.81 107.29,22.67 107.37,22.52 107.46,22.38 107.55,22.24 107.64,22.10 107.72,21.96 107.81,21.82 107.90,21.69 107.99,21.55 108.07,21.42 108.16,21.28 108.25,21.15 108.34,21.02 108.42,20.89 108.51,20.76 108.60,20.63 108.69,20.51 108.77,20.38 108.86,20.26 108.95,20.13 109.03,20.01 109.12,19.89 109.21,19.77 109.30,19.65 109.38,19.54 109.47,19.42 109.56,19.30 109.64,19.19 109.73,19.07 109.82,18.96 109.91,18.85 109.99,18.74 110.08,18.63 110.17,18.52 110.25,18.41 110.34,18.31 110.43,18.20 110.51,18.10 110.60,17.99 110.69,17.89 110.78,17.79 110.86,17.69 110.95,17.59 111.04,17.49 111.12,17.39 111.21,17.29 111.30,17.19 111.38,17.10 111.47,17.00 111.56,16.91 111.64,16.81 111.73,16.72 111.82,16.63 111.90,16.54 111.99,16.45 112.08,16.36 112.16,16.27 112.25,16.18 112.34,16.10 112.42,16.01 112.51,15.92 112.60,15.84 112.68,15.76 112.77,15.67 112.86,15.59 112.94,15.51 113.03,15.43 113.12,15.35 113.20,15.27 113.29,15.19 113.38,15.11 113.46,15.03 113.55,14.96 113.64,14.88 113.72,14.81 113.81,14.73 113.90,14.66 113.98,14.58 114.07,14.51 114.15,14.44 114.24,14.37 114.33,14.30 114.41,14.23 114.50,14.16 114.59,14.09 114.67,14.02 114.76,13.95 114.84,13.89 114.93,13.82 115.02,13.75 115.10,13.69 115.19,13.62 115.28,13.56 115.36,13.50 115.45,13.43 115.53,13.37 115.62,13.31 115.71,13.25 115.79,13.19 115.88,13.13 115.97,13.07 116.05,13.01 116.14,12.95 116.22,12.89 116.31,12.83 116.40,12.78 116.48,12.72 116.57,12.66 116.65,12.61 116.74,12.55 116.83,12.50 116.91,12.45 117.00,12.39 117.08,12.34 117.17,12.29 117.26,12.24 117.34,12.18 117.43,12.13 117.51,12.08 117.60,12.03 117.68,11.98 117.77,11.93 117.86,11.88 117.94,11.84 118.03,11.79 118.11,11.74 118.20,11.69 118.28,11.65 118.37,11.60 118.46,11.55 118.54,11.51 118.63,11.46 118.71,11.42 118.80,11.38 118.88,11.33 118.97,11.29 119.06,11.25 119.14,11.20 119.23,11.16 119.31,11.12 119.40,11.08 119.48,11.04 119.57,11.00 119.65,10.96 119.74,10.92 119.83,10.88 119.91,10.84 120.00,10.80 120.08,10.76 120.17,10.72 120.25,10.68 120.34,10.65 120.42,10.61 120.51,10.57 120.59,10.54 120.68,10.50 120.77,10.46 120.85,10.43 120.94,10.39 121.02,10.36 121.11,10.32 121.19,10.29 121.28,10.26 121.36,10.22 121.45,10.19 121.53,10.16 121.62,10.12 121.70,10.09 121.79,10.06 121.87,10.03 121.96,10.00 122.04,9.97 122.13,9.93 122.21,9.90 122.30,9.87 122.38,9.84 122.47,9.81 122.55,9.78 122.64,9.76 122.72,9.73 122.81,9.70 122.89,9.67 122.98,9.64 123.06,9.61 123.15,9.59 123.23,9.56 123.32,9.53 123.40,9.50 123.49,9.48 123.57,9.45 123.66,9.42 123.74,9.40 123.83,9.37 123.91,9.35 124.00,9.32 124.08,9.30 124.17,9.27 124.25,9.25 124.34,9.22 124.42,9.20 124.51,9.18 124.59,9.15 124.68,9.13 124.76,9.11 124.85,9.08 124.93,9.06 125.01,9.04 125.10,9.01 125.18,8.99 125.27,8.97 125.35,8.95 125.44,8.93 125.52,8.91 125.61,8.88 125.69,8.86 125.78,8.84 125.86,8.82 125.95,8.80 126.03,8.78 126.11,8.76 126.20,8.74 126.28,8.72 126.37,8.70 126.45,8.68 126.54,8.66 126.62,8.64 126.70,8.63 126.79,8.61 126.87,8.59 126.96,8.57 127.04,8.55 127.13,8.53 127.21,8.52 127.30,8.50 127.38,8.48 127.46,8.46 127.55,8.45 127.63,8.43 127.72,8.41 127.80,8.40 127.88,8.38 127.97,8.36 128.05,8.35 128.14,8.33 128.22,8.31 128.31,8.30 128.39,8.28 128.47,8.27 128.56,8.25 128.64,8.24 128.73,8.22 128.81,8.21 128.89,8.19 128.98,8.18 129.06,8.16 129.15,8.15 129.23,8.13 129.31,8.12 129.40,8.11 129.48,8.09 129.57,8.08 129.65,8.07 129.73,8.05 129.82,8.04 129.90,8.03 129.99,8.01 130.07,8.00 130.15,7.99 130.24,7.97 130.32,7.96 130.40,7.95 130.49,7.94 130.57,7.92 130.66,7.91 130.74,7.90 130.82,7.89 130.91,7.88 130.99,7.86 131.07,7.85 131.16,7.84 131.24,7.83 131.32,7.82 131.41,7.81 131.49,7.80 131.58,7.78 131.66,7.77 131.74,7.76 131.83,7.75 131.91,7.74 131.99,7.73 132.08,7.72 132.16,7.71 132.24,7.70 132.33,7.69 132.41,7.68 132.49,7.67 132.58,7.66 132.66,7.65 132.74,7.64 132.83,7.63 132.91,7.62 132.99,7.61 133.08,7.60 133.16,7.59 133.24,7.58 133.33,7.58 133.41,7.57 133.49,7.56 133.58,7.55 133.66,7.54 133.74,7.53 133.83,7.52 133.91,7.51 133.99,7.51 134.08,7.50 134.16,7.49 134.24,7.48 134.33,7.47 134.41,7.46 134.49,7.46 134.58,7.45 134.66,7.44 134.74,7.43 134.83,7.43 134.91,7.42 134.99,7.41 135.07,7.40 135.16,7.40 135.24,7.39 135.32,7.38 135.41,7.37 135.49,7.37 135.57,7.36 135.65,7.35 135.74,7.35 135.82,7.34 135.90,7.33 135.99,7.33 136.07,7.32 136.15,7.31 136.23,7.31 136.32,7.30 136.40,7.29 136.48,7.29 136.57,7.28 136.65,7.27 136.73,7.27 136.81,7.26 136.90,7.25 136.98,7.25 137.06,7.24 137.15,7.24 137.23,7.23 137.31,7.23 137.39,7.22 137.48,7.21 137.56,7.21 137.64,7.20 137.72,7.20 137.81,7.19 137.89,7.19 137.97,7.18 138.05,7.18 138.14,7.17 138.22,7.16 138.30,7.16 138.38,7.15 138.47,7.15 138.55,7.14 138.63,7.14 138.71,7.13 138.80,7.13 138.88,7.12 138.96,7.12 139.04,7.11 139.13,7.11 139.21,7.11 139.29,7.10 139.37,7.10 139.45,7.09 139.54,7.09 139.62,7.08 139.70,7.08 139.78,7.07 139.87,7.07 139.95,7.06 140.03,7.06 140.11,7.06 140.19,7.05 140.28,7.05 140.36,7.04 140.44,7.04 140.52,7.04 140.61,7.03 140.69,7.03 140.77,7.02 140.85,7.02 140.93,7.02 141.02,7.01 141.10,7.01 141.18,7.00 141.26,7.00 141.34,7.00 141.43,6.99 141.51,6.99 141.59,6.99 141.67,6.98 141.75,6.98 141.84,6.98 141.92,6.97 142.00,6.97 142.08,6.97 142.16,6.96 142.24,6.96 142.33,6.96 142.41,6.95 142.49,6.95 142.57,6.95 142.65,6.94 142.73,6.94 142.82,6.94 142.90,6.93 142.98,6.93 143.06,6.93 143.14,6.92 143.23,6.92 143.31,6.92 143.39,6.91 143.47,6.91 143.55,6.91 143.63,6.91 143.71,6.90 143.80,6.90 143.88,6.90 143.96,6.90 144.04,6.89 144.12,6.89 144.20,6.89 144.29,6.88 144.37,6.88 144.45,6.88 144.53,6.88 144.61,6.87 144.69,6.87 144.77,6.87 144.86,6.87 144.94,6.86 145.02,6.86 145.10,6.86" class="c" stroke-dasharray="6.2 3.4"/>
<circle cx="62.05" cy="290.90" r="4.3" class="pt"/><line x1="77.97" y1="99.85" x2="77.97" y2="290.90" class="eb"/><circle cx="77.97" cy="222.95" r="4.3" class="pt"/><line x1="94.54" y1="6.60" x2="94.54" y2="156.71" class="eb"/><circle cx="94.54" cy="51.80" r="4.3" class="pt"/><circle cx="257.02" cy="290.90" r="4.3" class="pt"/><circle cx="289.52" cy="290.90" r="4.3" class="pt"/><line x1="322.02" y1="177.18" x2="322.02" y2="290.90" class="eb"/><circle cx="322.02" cy="262.47" r="4.3" class="pt"/><line x1="354.51" y1="6.60" x2="354.51" y2="107.53" class="eb"/><circle cx="354.51" cy="29.34" r="4.3" class="pt"/>
<rect x="118.6" y="27.1" width="193.5" height="51.6" fill="#fff" stroke="#000" stroke-width="1.8"/>
<line x1="123.2" y1="37.3" x2="156.2" y2="37.3" stroke="#000" stroke-width="1.6"/>
<circle cx="139.9" cy="52.6" r="4.3" class="pt"/>
<line x1="123.2" y1="68.1" x2="156.2" y2="68.1" stroke="#000" stroke-width="1.7" stroke-dasharray="5.3 4.3"/>
<text x="164.9" y="40.7" font-size="14.2">Theory (Corollary 2)</text>
<text x="164.9" y="57.1" font-size="14.2">Illumina GAIIx Data</text>
<text x="164.9" y="70.7" font-size="14.2">Theory (Bias Correction)</text>
<text x="165.3" y="124" font-size="14.1" font-style="italic">E. faecium</text>
<text x="147.3" y="180.1" font-size="14.1" font-style="italic">S. artemidis</text>
<line x1="123" y1="115.9" x2="158" y2="115.9" stroke="#000" stroke-width="1.9"/>
<path d="M115.6,115.9 L126.3,110.5 L124,115.9 L126.3,121.3 Z" fill="#000"/>
<line x1="222" y1="173.75" x2="256" y2="173.75" stroke="#000" stroke-width="1.9"/>
<path d="M264.3,173.7 L253.5,168.2 L255.8,173.7 L253.5,179.1 Z" fill="#000"/>
<rect x="45.8" y="6.6" width="406.2" height="284.29999999999995" fill="none" stroke="#000" stroke-width="1.85"/>
<line x1="73.82" y1="290.90" x2="82.12" y2="290.90" class="cap"/><line x1="73.82" y1="99.85" x2="82.12" y2="99.85" class="cap"/><line x1="90.39" y1="156.71" x2="98.69" y2="156.71" class="cap"/><line x1="90.39" y1="6.60" x2="98.69" y2="6.60" class="cap"/><line x1="317.87" y1="290.90" x2="326.17" y2="290.90" class="cap"/><line x1="317.87" y1="177.18" x2="326.17" y2="177.18" class="cap"/><line x1="350.36" y1="107.53" x2="358.66" y2="107.53" class="cap"/><line x1="350.36" y1="6.60" x2="358.66" y2="6.60" class="cap"/>
<text x="40.6" y="294.60" text-anchor="end" class="tk">0</text>
<text x="40.6" y="266.17" text-anchor="end" class="tk">0.1</text>
<text x="40.6" y="237.74" text-anchor="end" class="tk">0.2</text>
<text x="40.6" y="209.31" text-anchor="end" class="tk">0.3</text>
<text x="40.6" y="180.88" text-anchor="end" class="tk">0.4</text>
<text x="40.6" y="152.45" text-anchor="end" class="tk">0.5</text>
<text x="40.6" y="124.02" text-anchor="end" class="tk">0.6</text>
<text x="40.6" y="95.59" text-anchor="end" class="tk">0.7</text>
<text x="40.6" y="67.16" text-anchor="end" class="tk">0.8</text>
<text x="40.6" y="38.73" text-anchor="end" class="tk">0.9</text>
<text x="40.6" y="10.30" text-anchor="end" class="tk">1</text>

<text x="62.05" y="315.2" text-anchor="middle" class="tk">3.0×10<tspan dx="0.4" dy="-7.4" font-size="8.8">6</tspan></text>
<text x="159.54" y="315.2" text-anchor="middle" class="tk">6.0×10<tspan dx="0.4" dy="-7.4" font-size="8.8">6</tspan></text>
<text x="257.02" y="315.2" text-anchor="middle" class="tk">9.0×10<tspan dx="0.4" dy="-7.4" font-size="8.8">6</tspan></text>
<text x="354.51" y="315.2" text-anchor="middle" class="tk">1.2×10<tspan dx="0.4" dy="-7.4" font-size="8.8">7</tspan></text>
<text x="452.00" y="315.2" text-anchor="middle" class="tk">1.5×10<tspan dx="0.4" dy="-7.4" font-size="8.8">7</tspan></text>

<text x="258" y="334.6" text-anchor="middle" font-size="15">total number of project reads</text>
<text transform="translate(12.2,149.7) rotate(-90)" text-anchor="middle" font-size="15.4" font-style="italic">P (B = 0)</text>
</svg>
</body></html>
